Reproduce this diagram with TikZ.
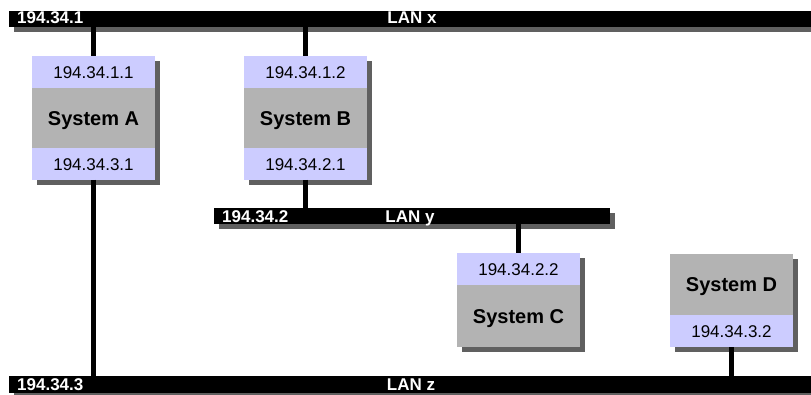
\documentclass[tikz,border=0pt]{standalone}
\usepackage{fontspec}
\setmainfont{Liberation Sans}
\usetikzlibrary{shadows,calc}
\definecolor{ipblue}{HTML}{CCCCFF}
\definecolor{sysgray}{HTML}{B3B3B3}
\definecolor{shadowgray}{HTML}{606060}
\begin{document}
\begin{tikzpicture}[x=1pt,y=-1pt,
  withshadow/.style={drop shadow={shadow xshift=5pt,shadow yshift=-5pt,fill=shadowgray,opacity=1}},
  lanbar/.style={fill=black, inner sep=0pt, outer sep=0pt, minimum height=16.5pt, anchor=north west, withshadow},
  lanlabel/.style={text=white, font=\bfseries\fontsize{17}{17}\selectfont, inner sep=0pt, anchor=base west},
  sysbox/.style={fill=sysgray, inner sep=0pt, outer sep=0pt, minimum width=123pt, anchor=north west, withshadow},
  ipband/.style={fill=ipblue, inner sep=0pt, outer sep=0pt, minimum width=123pt, minimum height=32pt, text height=12.2pt, text depth=0pt, font=\fontsize{17}{17}\selectfont},
  systitle/.style={inner sep=0pt, text height=14.3pt, text depth=0pt, font=\bfseries\fontsize{20}{20}\selectfont},
  conn/.style={line width=5pt}
]
\useasboundingbox (0,0) rectangle (811,395);
\fill[white] (0,0) rectangle (811,395);

% LAN bars
\node[lanbar, minimum width=802pt] (lanx) at (9,11) {};
\node[lanlabel] (lanxip) at (17,24) {194.34.1};
\node[lanlabel, anchor=base] (lanxname) at (412,24) {LAN x};

\node[lanbar, minimum width=396pt] (lany) at (214,208) {};
\node[lanlabel] (lanyip) at (222,222.5) {194.34.2};
\node[lanlabel, anchor=base] (lanyname) at (410,222.5) {LAN y};

\node[lanbar, minimum width=802pt] (lanz) at (9,376) {};
\node[lanlabel] (lanzip) at (17,390) {194.34.3};
\node[lanlabel, anchor=base] (lanzname) at (411,390) {LAN z};

% System A
\node[sysbox, minimum height=124pt] (A) at (32,56) {};
\node[ipband, anchor=north] (A1) at (A.north) {194.34.1.1};
\node[ipband, anchor=south] (A3) at (A.south) {194.34.3.1};
\node[systitle] (Aname) at ($(A1.south)!0.5!(A3.north)$) {System A};

% System B
\node[sysbox, minimum height=124pt] (B) at (244,56) {};
\node[ipband, anchor=north] (B1) at (B.north) {194.34.1.2};
\node[ipband, anchor=south] (B2) at (B.south) {194.34.2.1};
\node[systitle] (Bname) at ($(B1.south)!0.5!(B2.north)$) {System B};

% System C
\node[sysbox, minimum height=94pt] (C) at (457,253) {};
\node[ipband, anchor=north] (C2) at (C.north) {194.34.2.2};
\node[systitle] (Cname) at ($(C2.south)!0.5!(C.south)$) {System C};

% System D
\node[sysbox, minimum height=93pt] (D) at (670,254) {};
\node[ipband, anchor=south] (D3) at (D.south) {194.34.3.2};
\node[systitle] (Dname) at ($(D.north)!0.5!(D3.north)$) {System D};

% connectors
\draw[conn] (lanx.south -| A.north) -- (A.north);
\draw[conn] (A.south) -- (A.south |- lanz.north);
\draw[conn] (lanx.south -| B.north) -- (B.north);
\draw[conn] (B.south) -- (B.south |- lany.north);
\draw[conn] (lany.south -| C.north) -- (C.north);
\draw[conn] (D.south) -- (D.south |- lanz.north);
\end{tikzpicture}
\end{document}
